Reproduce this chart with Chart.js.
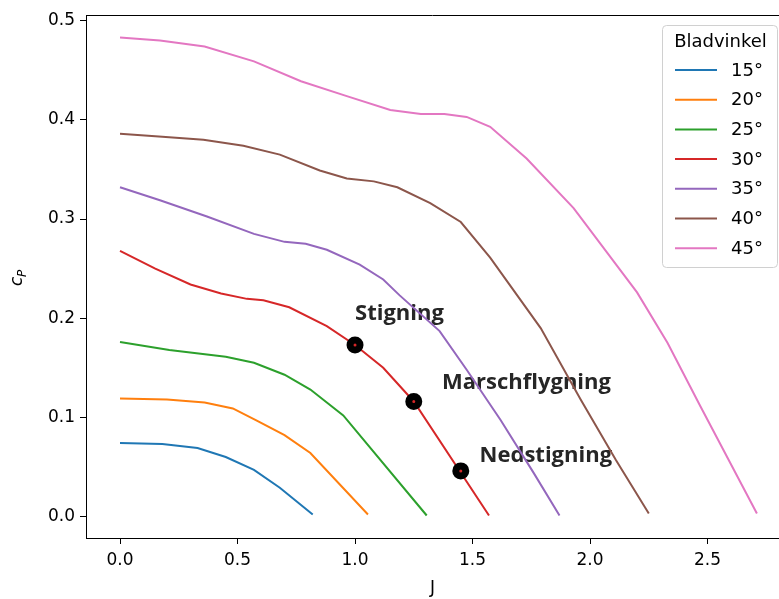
<!DOCTYPE html>
<html>
<head>
<meta charset="utf-8">
<script src="https://cdn.jsdelivr.net/npm/chart.js@4"></script>
<style>
  html, body { margin: 0; padding: 0; background: #fff; }
  #wrap { width: 779px; height: 599px; }
</style>
</head>
<body>
<div id="wrap"><canvas id="grafCp" width="779" height="599"></canvas></div>
<script>
// Bladvinklar och uppmätta kurvor (J, cP)
const vinklar = ['15°', '20°', '25°', '30°', '35°', '40°', '45°'];
const farger = ['#1f77b4', '#ff7f0e', '#2ca02c', '#d62728', '#9467bd', '#8c564b', '#e377c2'];

const j15 = [0, 0.18, 0.33, 0.45, 0.57, 0.68, 0.82];
const cp15 = [0.074, 0.073, 0.069, 0.060, 0.047, 0.029, 0.002];

const j20 = [0, 0.20, 0.36, 0.48, 0.58, 0.70, 0.81, 1.055];
const cp20 = [0.119, 0.118, 0.115, 0.109, 0.097, 0.082, 0.064, 0.002];

const j25 = [0, 0.21, 0.45, 0.57, 0.70, 0.81, 0.95, 1.305];
const cp25 = [0.176, 0.168, 0.161, 0.155, 0.143, 0.128, 0.102, 0.001];

const j30 = [0, 0.15, 0.30, 0.43, 0.54, 0.61, 0.72, 0.88, 1.0, 1.12, 1.25, 1.57];
const cp30 = [0.268, 0.250, 0.234, 0.225, 0.2195, 0.218, 0.211, 0.192, 0.173, 0.150, 0.116, 0.001];

const j35 = [0, 0.17, 0.37, 0.57, 0.70, 0.79, 0.88, 1.02, 1.12, 1.19, 1.36, 1.475, 1.62, 1.76, 1.87];
const cp35 = [0.332, 0.319, 0.3025, 0.285, 0.277, 0.275, 0.269, 0.254, 0.239, 0.223, 0.187, 0.148, 0.097, 0.044, 0.001];

const j40 = [0, 0.18, 0.355, 0.525, 0.68, 0.85, 0.965, 1.08, 1.18, 1.32, 1.45, 1.575, 1.79, 1.96, 2.11, 2.25];
const cp40 = [0.386, 0.383, 0.380, 0.374, 0.365, 0.349, 0.341, 0.338, 0.332, 0.316, 0.297, 0.261, 0.190, 0.118, 0.057, 0.003];

const j45 = [0, 0.17, 0.36, 0.57, 0.77, 0.965, 1.15, 1.28, 1.38, 1.475, 1.575, 1.73, 1.93, 2.2, 2.33, 2.47, 2.71];
const cp45 = [0.483, 0.480, 0.474, 0.459, 0.439, 0.424, 0.410, 0.406, 0.406, 0.403, 0.393, 0.361, 0.311, 0.226, 0.175, 0.111, 0.003];

// Driftpunkter på 30°-kurvan
const punktNamn = ['Stigning', 'Marschflygning', 'Nedstigning'];
const punktJ = [1.0, 1.25, 1.45];
const punktCp = [0.173, 0.116, 0.046];
const textJ = [1.0, 1.37, 1.53];
const textCp = [0.198, 0.129, 0.055];

const xTicks = [0, 0.5, 1.0, 1.5, 2.0, 2.5];
const yTicks = [0, 0.1, 0.2, 0.3, 0.4, 0.5];

const allaJ = [j15, j20, j25, j30, j35, j40, j45];
const allaCp = [cp15, cp20, cp25, cp30, cp35, cp40, cp45];

const FONT = "'DejaVu Sans', sans-serif";

function parvis(xs, ys) {
    return xs.map((x, i) => ({ x: x, y: ys[i] }));
}

const dataset = vinklar.map((v, i) => ({
    label: v,
    data: parvis(allaJ[i], allaCp[i]),
    showLine: true,
    borderColor: farger[i],
    backgroundColor: farger[i],
    borderWidth: 2,
    pointRadius: 0,
    tension: 0,
    order: vinklar.length - i
}));

dataset.push({
    label: '_punkter',
    data: parvis(punktJ, punktCp),
    showLine: false,
    pointRadius: 5,
    borderWidth: 7,
    borderColor: '#000',
    backgroundColor: '#d62728',
    order: 0
});

// Text för driftpunkterna, ritas under linjerna
const annoteringar = {
    id: 'annoteringar',
    beforeDatasetsDraw(chart) {
        const ctx = chart.ctx;
        const xs = chart.scales.x, ys = chart.scales.y;
        ctx.save();
        ctx.font = "bold 22px 'Open Sans', 'Liberation Sans', sans-serif";
        ctx.fillStyle = '#262626';
        ctx.textBaseline = 'alphabetic';
        ctx.textAlign = 'left';
        punktNamn.forEach((t, i) => {
            ctx.fillText(t, xs.getPixelForValue(textJ[i]), ys.getPixelForValue(textCp[i]));
        });
        ctx.restore();
    }
};

// Ram överst, y-etikett och legend
const ramOchLegend = {
    id: 'ramOchLegend',
    afterDraw(chart) {
        const ctx = chart.ctx;
        const a = chart.chartArea;
        ctx.save();
        ctx.strokeStyle = '#000';
        ctx.lineWidth = 1;
        ctx.beginPath();
        ctx.moveTo(a.left, a.top + 0.5);
        ctx.lineTo(a.right, a.top + 0.5);
        ctx.stroke();

        // y-axelns titel: c med nedsänkt P
        ctx.translate(22, 278);
        ctx.rotate(-Math.PI / 2);
        ctx.fillStyle = '#000';
        ctx.textBaseline = 'alphabetic';
        ctx.font = 'italic 17px ' + FONT;
        ctx.fillText('c', -8, 0);
        ctx.font = 'italic 12px ' + FONT;
        ctx.fillText('P', 1, 4);
        ctx.restore();

        // legend
        const bx = 662, by = 25, bw = 115, bh = 242;
        ctx.save();
        ctx.fillStyle = 'rgba(255,255,255,0.8)';
        ctx.strokeStyle = '#d0d0d0';
        ctx.lineWidth = 1;
        ctx.beginPath();
        ctx.roundRect(bx + 0.5, by + 0.5, bw, bh, 4);
        ctx.fill();
        ctx.stroke();
        ctx.fillStyle = '#000';
        ctx.font = '18px ' + FONT;
        ctx.textAlign = 'center';
        ctx.textBaseline = 'middle';
        ctx.fillText('Bladvinkel', bx + bw / 2 + 1, 42);
        ctx.textAlign = 'left';
        chart.data.datasets.filter(d => !d.label.startsWith('_')).forEach((d, i) => {
            const y = 70 + i * 29.7;
            ctx.strokeStyle = d.borderColor;
            ctx.lineWidth = 2;
            ctx.beginPath();
            ctx.moveTo(675, y);
            ctx.lineTo(717, y);
            ctx.stroke();
            ctx.fillText(d.label, 731, y + 1);
        });
        ctx.restore();
    }
};

const axelStil = {
    grid: { display: true, drawOnChartArea: false, drawTicks: true, tickLength: 6, color: '#000' },
    border: { display: true, color: '#000', width: 1 }
};

new Chart(document.getElementById('grafCp').getContext('2d'), {
    type: 'scatter',
    data: { datasets: dataset },
    options: {
        responsive: false,
        animation: false,
        devicePixelRatio: 1,
        layout: { autoPadding: false, padding: { top: 15, right: 0, left: 0, bottom: 0 } },
        plugins: {
            legend: { display: false },
            tooltip: { enabled: false }
        },
        scales: {
            x: {
                type: 'linear',
                min: -0.1447,
                max: 2.804,
                ...axelStil,
                afterBuildTicks: s => { s.ticks = xTicks.map(v => ({ value: v })); },
                afterFit: s => { s.height = 61; s.paddingLeft = 0; s.paddingRight = 0; },
                ticks: {
                    color: '#000',
                    padding: 6,
                    autoSkip: false,
                    maxRotation: 0,
                    font: { family: FONT, size: 17 },
                    callback: v => v.toFixed(1)
                },
                title: {
                    display: true,
                    text: 'J',
                    color: '#000',
                    padding: { top: 2, bottom: 0 },
                    font: { family: FONT, size: 17 }
                }
            },
            y: {
                type: 'linear',
                min: -0.0217,
                max: 0.5058,
                ...axelStil,
                afterBuildTicks: s => { s.ticks = yTicks.map(v => ({ value: v })); },
                afterFit: s => { s.width = 86; s.paddingTop = 0; s.paddingBottom = 0; },
                ticks: {
                    color: '#000',
                    padding: 5,
                    autoSkip: false,
                    font: { family: FONT, size: 17 },
                    callback: v => v.toFixed(1)
                }
            }
        }
    },
    plugins: [annoteringar, ramOchLegend]
});
</script>
</body>
</html>
